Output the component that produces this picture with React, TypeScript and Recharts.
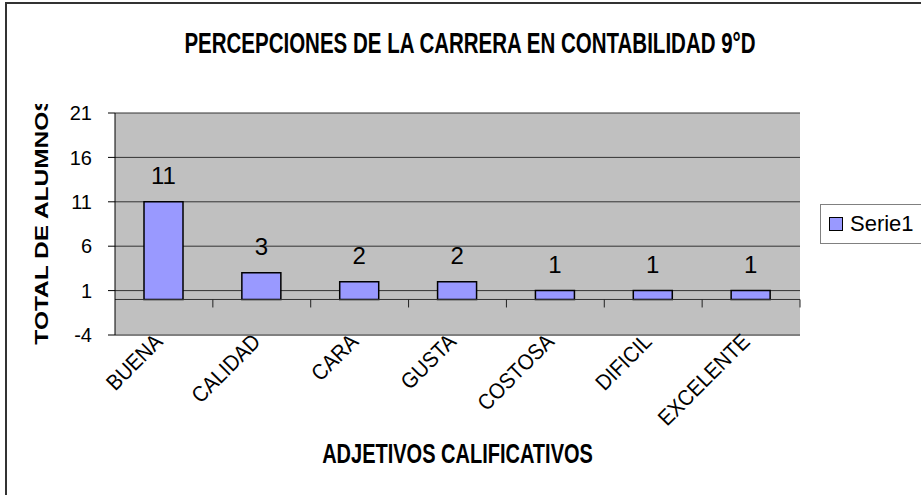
import { BarChart, Bar, XAxis, YAxis, CartesianGrid, LabelList, ReferenceLine } from 'recharts'

const categories = ['BUENA', 'CALIDAD', 'CARA', 'GUSTA', 'COSTOSA', 'DIFICIL', 'EXCELENTE']
const serie1 = [11, 3, 2, 2, 1, 1, 1]
const yTicks = [-4, 1, 6, 11, 16, 21]
const seriesName = 'Serie1'

const chartTitle = 'PERCEPCIONES DE LA CARRERA EN CONTABILIDAD 9°D'
const xTitle = 'ADJETIVOS CALIFICATIVOS'
const yTitle = 'TOTAL DE ALUMNOS'

const data = categories.map((name, i) => ({ name, value: serie1[i] }))

const FONT = '"Liberation Sans", Arial, sans-serif'
const BAR_FILL = '#9999FF'

const CategoryTick = (props: any) => {
  const { x, y, payload } = props
  return (
    <g transform={`translate(${x},${y})`}>
      <text textAnchor="end" transform="rotate(-45) scale(1,1.1)" fontSize={20} fontFamily={FONT} fill="#000">
        {payload.value}
      </text>
    </g>
  )
}

// axis line at zero with category tick marks hanging below it
const ZeroAxis = (props: any) => {
  const { x1, y1, x2 } = props
  if (x1 == null) return null
  const step = (x2 - x1) / categories.length
  return (
    <g>
      <line x1={x1} y1={y1} x2={x2} y2={y1} stroke="#333" strokeWidth={1} />
      {categories.map((c, i) => {
        const tx = x1 + step * (i + 1)
        return <line key={c} x1={tx} y1={y1} x2={tx} y2={y1 + 8} stroke="#222" strokeWidth={1} />
      })}
    </g>
  )
}

const YTitle = ({ viewBox }: any) => {
  const cx = viewBox.x + 42
  const cy = viewBox.y + viewBox.height / 2 - 4
  return (
    <g>
      <defs>
        <clipPath id="ytitle-clip">
          <rect x={0} y={104} width={100} height={300} />
        </clipPath>
      </defs>
      <g clipPath="url(#ytitle-clip)">
        <text
          transform={`translate(${cx},${cy}) rotate(-90) scale(1.4,1)`}
          textAnchor="middle"
          dominantBaseline="central"
          fontSize={17.5}
          fontWeight="bold"
          fontFamily={FONT}
          fill="#000"
        >
          {yTitle}
        </text>
      </g>
    </g>
  )
}

const XTitle = ({ viewBox }: any) => {
  const cx = viewBox.x + viewBox.width / 2
  const cy = viewBox.y + 118
  return (
    <text
      transform={`translate(${cx},${cy}) scale(1,1.4)`}
      textAnchor="middle"
      dominantBaseline="central"
      fontSize={20}
      fontWeight="bold"
      fontFamily={FONT}
      fill="#000"
    >
      {xTitle}
    </text>
  )
}

export default function App() {
  return (
    <div
      style={{
        position: 'absolute',
        left: 0,
        top: 0,
        width: 921,
        height: 495,
        overflow: 'hidden',
        background: '#fff',
        fontFamily: FONT,
      }}
    >
      <div
        style={{
          position: 'absolute',
          left: 5,
          top: 2,
          width: 1000,
          height: 600,
          borderLeft: '2px solid #333',
          borderTop: '2px solid #333',
        }}
      />
      <div
        style={{
          position: 'absolute',
          left: 0,
          top: 33,
          width: 940,
          textAlign: 'center',
          fontSize: 20.5,
          lineHeight: '20px',
          fontWeight: 'bold',
          transform: 'scaleY(1.45)',
          color: '#000',
        }}
      >
        {chartTitle}
      </div>
      <div style={{ position: 'absolute', left: 0, top: 0 }}>
        <BarChart width={921} height={495} data={data} margin={{ top: 113, right: 121, bottom: 0, left: 0 }}>
          <CartesianGrid horizontal vertical={false} stroke="#333" fill="#C0C0C0" fillOpacity={1} />
          <XAxis
            dataKey="name"
            height={160}
            interval={0}
            tickLine={false}
            axisLine={{ stroke: '#808080', strokeWidth: 2 }}
            tick={<CategoryTick />}
            label={<XTitle />}
          />
          <YAxis
            width={115}
            domain={[-4, 21]}
            ticks={yTicks}
            interval={0}
            tickSize={7}
            tickMargin={16}
            axisLine={{ stroke: '#000' }}
            tickLine={{ stroke: '#000' }}
            tick={{ fontSize: 20, fill: '#000', fontFamily: FONT }}
            label={<YTitle />}
          />
          <YAxis
            yAxisId="border"
            orientation="right"
            width={0}
            domain={[-4, 21]}
            tick={false}
            tickLine={false}
            axisLine={{ stroke: '#808080', strokeWidth: 2 }}
          />
          <ReferenceLine y={0} shape={<ZeroAxis />} />
          <Bar dataKey="value" name={seriesName} fill={BAR_FILL} stroke="#000" strokeWidth={1.5} barSize={39} isAnimationActive={false}>
            <LabelList dataKey="value" position="top" offset={18} fontSize={24} fill="#000" fontFamily={FONT} />
          </Bar>
        </BarChart>
      </div>
      <div
        style={{
          position: 'absolute',
          left: 820,
          top: 204,
          width: 110,
          height: 38,
          border: '1px solid #808080',
          background: '#fff',
          display: 'flex',
          alignItems: 'center',
        }}
      >
        <span
          style={{
            display: 'inline-block',
            width: 12,
            height: 12,
            marginLeft: 8,
            background: BAR_FILL,
            border: '1.5px solid #000',
          }}
        />
        <span style={{ marginLeft: 7, fontSize: 22, color: '#000' }}>{seriesName}</span>
      </div>
    </div>
  )
}
